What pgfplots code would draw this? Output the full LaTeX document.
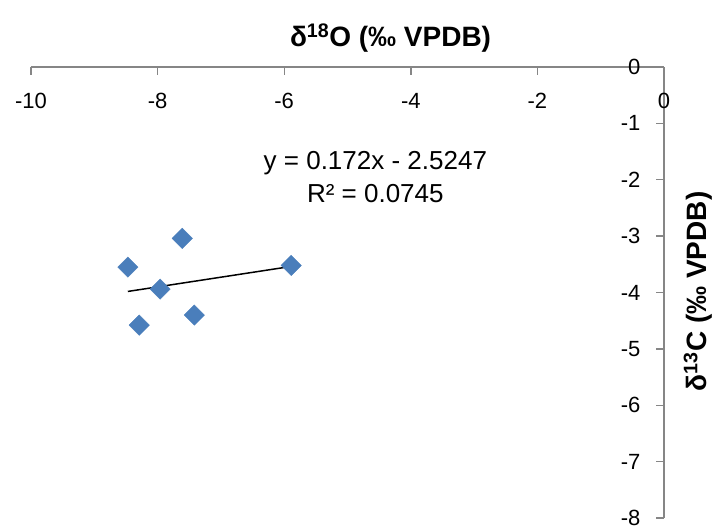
\documentclass[border=0pt]{standalone}
\usepackage{fontspec}
\setmainfont{Liberation Sans}
\usepackage{pgfplots}
\pgfplotsset{compat=1.18}
\definecolor{axgray}{HTML}{868686}
\definecolor{ptblue}{HTML}{4A7EBB}
\begin{document}
\begin{tikzpicture}
\begin{axis}[
  name=ax,
  scale only axis,
  width=633pt, height=451pt,
  xmin=-10, xmax=0, ymin=-8, ymax=0,
  axis lines=middle,
  axis line style={-, axgray, line width=1.4pt},
  tick style={axgray, line width=1.4pt},
  tick align=outside,
  major tick length=8pt,
  hide obscured x ticks=false,
  hide obscured y ticks=false,
  xtick={-10,-8,-6,-4,-2,0},
  ytick={-8,-7,-6,-5,-4,-3,-2,-1,0},
  /pgf/number format/assume math mode=true,
  ticklabel style={font=\fontsize{22}{24}\selectfont, text=black},
  xticklabel style={yshift=-15pt},
  yticklabel style={xshift=-12pt},
  clip=false,
]
\addplot[only marks, mark=square*, mark size=7.2pt, mark options={rotate=45, fill=ptblue, draw=ptblue}]
  coordinates {(-8.47,-3.55) (-7.61,-3.04) (-7.96,-3.94) (-8.29,-4.58) (-7.42,-4.40) (-5.89,-3.52)};
\addplot[black, line width=1.5pt]
  coordinates {(-8.47,-3.9815) (-5.89,-3.5378)};
\node[font=\fontsize{26}{28}\selectfont] at (axis cs:-4.56,-1.70) {y = 0.172x - 2.5247};
\node[font=\fontsize{26}{28}\selectfont] at (axis cs:-4.56,-2.25) {R² = 0.0745};
\node[font=\bfseries\fontsize{28}{30}\selectfont] at ([yshift=29pt]axis cs:-4.32,0) {δ\textsuperscript{18}O (‰ VPDB)};
\node[font=\bfseries\fontsize{28}{30}\selectfont, rotate=90] at ([xshift=34pt]axis cs:0,-3.98) {δ\textsuperscript{13}C (‰ VPDB)};
\end{axis}
\pgfresetboundingbox
\path[use as bounding box] ([xshift=-31pt,yshift=-9pt]ax.south west) rectangle ([xshift=54pt,yshift=67pt]ax.north east);
\end{tikzpicture}
\end{document}
